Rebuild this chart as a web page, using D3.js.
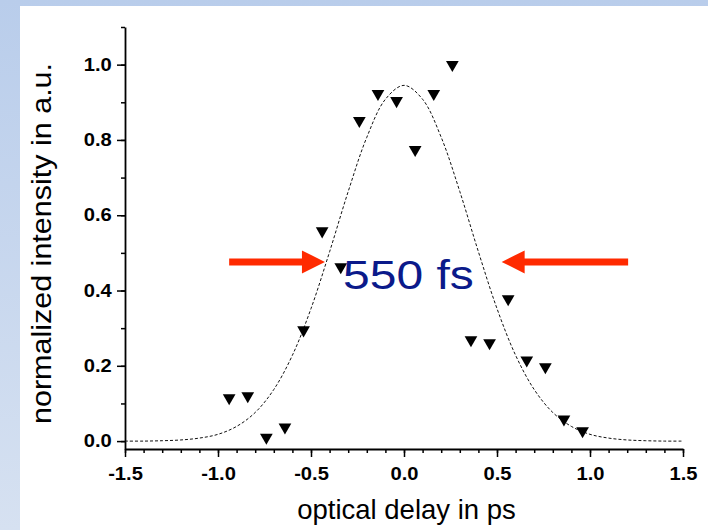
<!DOCTYPE html>
<html>
<head>
<meta charset="utf-8">
<script src="https://cdn.jsdelivr.net/npm/d3@7"></script>
<style>
  body { margin: 0; background: #fff; }
  svg { display: block; font-family: Arial, "Liberation Sans", sans-serif; }
</style>
</head>
<body>
<svg id="chart" width="708" height="530"></svg>
<script>
// measured points (optical delay in ps, normalized intensity)
const delays = [-0.94, -0.84, -0.74, -0.64, -0.54, -0.44, -0.34, -0.24, -0.14, -0.04,
                0.06, 0.16, 0.26, 0.36, 0.46, 0.56, 0.66, 0.76, 0.86, 0.96]
const intensity = [0.115, 0.12, 0.01, 0.037, 0.295, 0.558, 0.463, 0.851, 0.923, 0.904,
                   0.774, 0.923, 1.0, 0.269, 0.261, 0.378, 0.215, 0.197, 0.058, 0.027]

// gaussian fit curve
const fitX = [-1.5, -1.4, -1.3, -1.2, -1.1, -1.0, -0.9, -0.8, -0.7, -0.6, -0.5, -0.4, -0.3, -0.2, -0.1,
              0.0, 0.1, 0.2, 0.3, 0.4, 0.5, 0.6, 0.7, 0.8, 0.9, 1.0, 1.1, 1.2, 1.3, 1.4, 1.5]
const fitY = [0.0, 0.0, 0.001, 0.003, 0.008, 0.018, 0.039, 0.076, 0.137, 0.228, 0.352, 0.503, 0.663, 0.807, 0.908,
              0.945, 0.908, 0.807, 0.663, 0.503, 0.352, 0.228, 0.137, 0.076, 0.039, 0.018, 0.008, 0.003, 0.001, 0.0, 0.0]

const xMajor = [-1.5, -1.0, -0.5, 0.0, 0.5, 1.0, 1.5]
const yMajor = [0.0, 0.2, 0.4, 0.6, 0.8, 1.0]

// FWHM annotation
const fwhmLabel = "550 fs"
const arrows = [ { from: -0.94, to: -0.425, y: 0.476 }, { from: 1.205, to: 0.525, y: 0.476 } ]

const svg = d3.select("#chart")

var defs = svg.append("defs")
var grad = defs.append("linearGradient")
    .attr("id", "frame")
    .attr("x1", 0).attr("y1", 0).attr("x2", 0).attr("y2", 1)
grad.append("stop").attr("offset", "0%").attr("stop-color", "#b9cdeb")
grad.append("stop").attr("offset", "100%").attr("stop-color", "#d6e1f1")

svg.append("rect").attr("width", 708).attr("height", 530).attr("fill", "url(#frame)")
svg.append("rect").attr("x", 20).attr("y", 6).attr("width", 688).attr("height", 524).attr("fill", "#fff")

var x = d3.scaleLinear().domain([-1.5, 1.5]).range([125, 683])
var y = d3.scaleLinear().domain([-0.021, 1.1]).range([449, 27])

var minorX = d3.range(-15, 16).map(d => d / 10)
var minorY = d3.range(0, 12).map(d => d / 10)

// minor ticks
svg.append("g")
    .attr("transform", "translate(0," + y(-0.021) + ")")
    .call(d3.axisBottom(x).tickValues(minorX).tickSize(4).tickSizeOuter(0).tickFormat(""))
    .call(g => g.select(".domain").remove())
svg.append("g")
    .attr("transform", "translate(" + x(-1.5) + ",0)")
    .call(d3.axisLeft(y).tickValues(minorY).tickSize(4).tickSizeOuter(0).tickFormat(""))
    .call(g => g.select(".domain").remove())

// major ticks + labels
var fmt = d => d3.format(".1f")(d).replace("−", "-")

var xAxis = svg.append("g")
    .attr("transform", "translate(0," + y(-0.021) + ")")
    .call(d3.axisBottom(x).tickValues(xMajor).tickSize(8).tickSizeOuter(0).tickFormat(fmt))
var yAxis = svg.append("g")
    .attr("transform", "translate(" + x(-1.5) + ",0)")
    .call(d3.axisLeft(y).tickValues(yMajor).tickSize(8).tickSizeOuter(0).tickFormat(fmt))

svg.selectAll(".tick line").attr("stroke", "#000").attr("stroke-width", 1.5)
svg.selectAll(".domain").attr("stroke", "#000").attr("stroke-width", 1.8)
svg.selectAll(".tick text")
    .attr("fill", "#000")
    .style("font-size", "18px")
    .style("font-weight", "bold")
    .style("font-family", "Arial, 'Liberation Sans', sans-serif")

// labels in the reference are drawn a bit wide
xAxis.selectAll(".tick text")
    .attr("y", 31.5)
    .attr("dy", null)
    .attr("transform", "scale(1.12,1)")
yAxis.selectAll(".tick text")
    .attr("x", -11.8)
    .attr("transform", "scale(1.12,1)")

// fit curve
var line = d3.line()
    .x((d, i) => x(fitX[i]))
    .y(d => y(d))
    .curve(d3.curveCatmullRom)

svg.append("path")
    .datum(fitY)
    .attr("d", line)
    .attr("fill", "none")
    .attr("stroke", "#111")
    .attr("stroke-width", 1)
    .attr("stroke-dasharray", "3,2")

// data markers
var tri = d3.symbol().type(d3.symbolTriangle).size(70)
svg.append("g")
  .selectAll("path")
  .data(delays)
  .enter()
  .append("path")
    .attr("d", tri)
    .attr("fill", "#000")
    .attr("transform", (d, i) => "translate(" + x(d) + "," + y(intensity[i]) + ") rotate(180)")

// arrows
svg.append("g")
  .selectAll("path")
  .data(arrows)
  .enter()
  .append("path")
    .attr("fill", "#ff2a00")
    .attr("d", (d) => {
      var x0 = x(d.from), x1 = x(d.to), yy = y(d.y)
      var dir = x1 > x0 ? 1 : -1
      var hb = x1 - dir * 23
      return "M" + x0 + "," + (yy - 3.5) +
             "L" + hb + "," + (yy - 3.5) +
             "L" + hb + "," + (yy - 11.5) +
             "L" + x1 + "," + yy +
             "L" + hb + "," + (yy + 11.5) +
             "L" + hb + "," + (yy + 3.5) +
             "L" + x0 + "," + (yy + 3.5) + "Z"
    })

svg.append("text")
    .attr("transform", "translate(" + x(0.024) + "," + y(0.405) + ") scale(1.2,1)")
    .attr("text-anchor", "middle")
    .attr("fill", "#0b1a8a")
    .style("font-size", "40px")
    .text(fwhmLabel)

// axis titles
svg.append("text")
    .attr("x", 406.5)
    .attr("y", 519)
    .attr("text-anchor", "middle")
    .attr("fill", "#000")
    .style("font-size", "27.5px")
    .text("optical delay in ps")

svg.append("text")
    .attr("transform", "translate(51,243.5) rotate(-90) scale(1.13,1)")
    .attr("text-anchor", "middle")
    .attr("fill", "#000")
    .style("font-size", "27px")
    .text("normalized intensity in a.u.")
</script>
</body>
</html>
